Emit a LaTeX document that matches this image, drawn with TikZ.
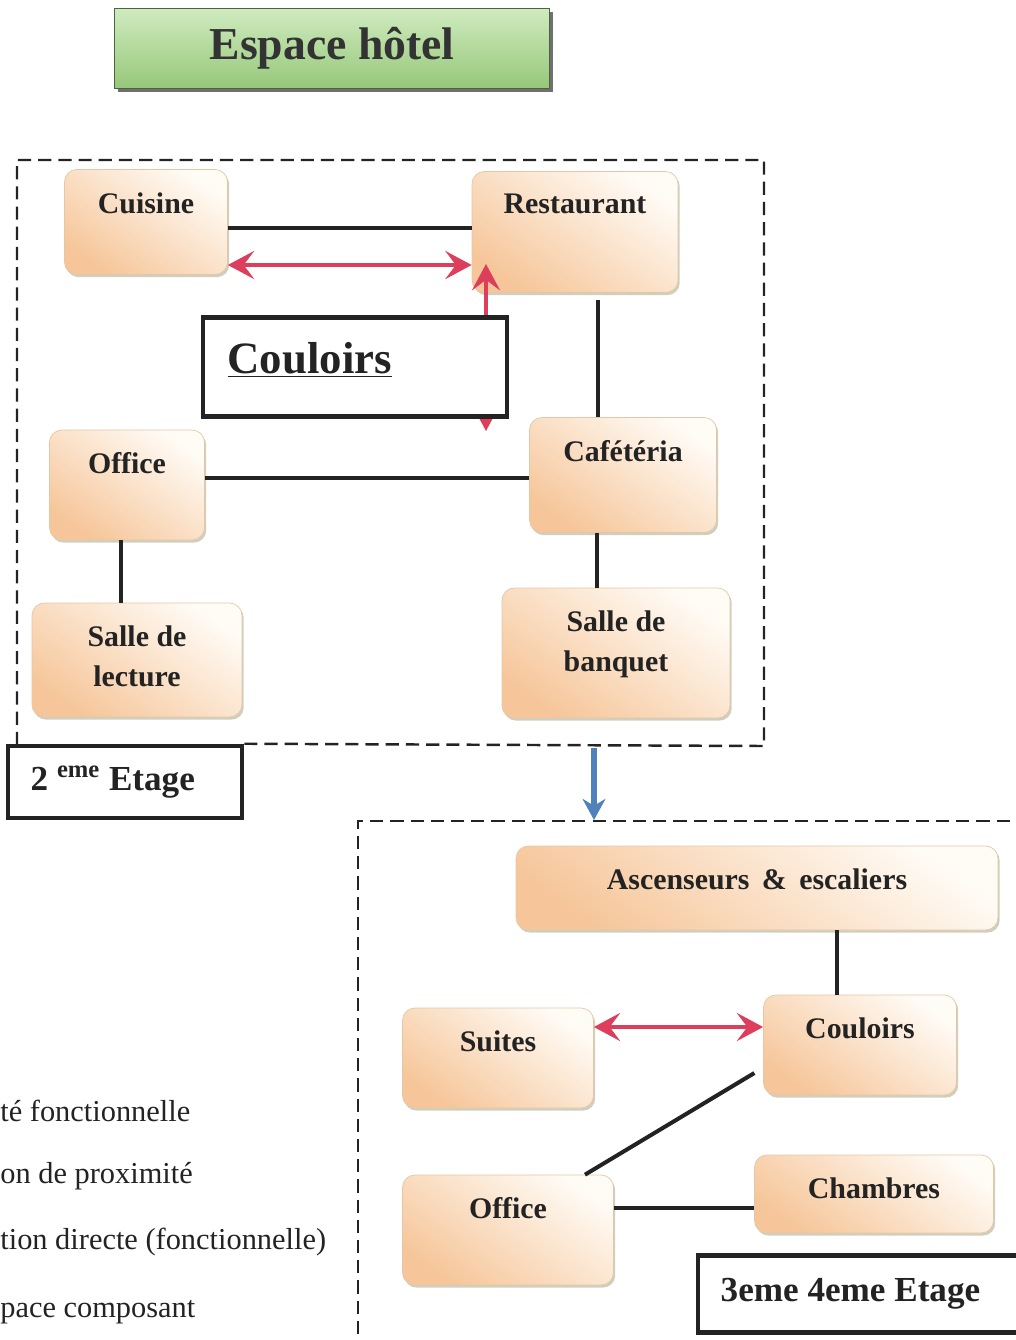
\documentclass[tikz,border=0pt]{standalone}
\usepackage{fontspec}
\setmainfont{Liberation Serif}
\usetikzlibrary{arrows.meta,shadows}

\definecolor{peach}{RGB}{246,198,154}
\definecolor{cream}{RGB}{255,251,245}
\definecolor{roomedge}{RGB}{228,200,165}
\definecolor{linkred}{RGB}{221,62,92}
\definecolor{linkblue}{RGB}{79,129,189}
\definecolor{titlegreen}{RGB}{150,200,122}
\definecolor{titlelight}{RGB}{208,235,192}
\definecolor{ink}{RGB}{35,35,35}

\begin{document}
\begin{tikzpicture}[x=0.02cm,y=-0.02cm,>={Stealth[length=15pt,width=16pt,inset=6pt]},
    room/.style={draw=roomedge,thin,rounded corners=7pt,top color=cream,bottom color=peach,shading angle=-35,
        drop shadow={shadow xshift=1pt,shadow yshift=-1.5pt,fill=black!60!yellow,opacity=.35}},
    rname/.style={anchor=north,yshift=-13pt,inner sep=0pt,align=center,text=ink,
        font=\fontsize{17}{23}\selectfont\bfseries},
    titlebox/.style={draw=black!50!titlegreen,top color=titlelight,bottom color=titlegreen,
        drop shadow={shadow xshift=2pt,shadow yshift=-2pt,fill=black!70,opacity=.8},
        text=black!80,font=\fontsize{26}{30}\selectfont\bfseries},
    corridor/.style={draw=ink,line width=2.4pt,fill=white},
    etage/.style={draw=ink,line width=2.6pt,fill=white},
    etext/.style={anchor=west,xshift=14pt,inner sep=0pt,text=ink,font=\fontsize{20}{24}\selectfont\bfseries},
    link/.style={draw=ink,line width=2.3pt},
    redlink/.style={draw=linkred,line width=2.3pt,<->},
    frame/.style={draw=ink,line width=1.4pt,dash pattern=on 7.5pt off 4pt},
    legend/.style={anchor=west,inner sep=0pt,text=ink,font=\fontsize{17.3}{20}\selectfont}]

    \useasboundingbox (0,0) rectangle (1016,1340);

    \node[titlebox,minimum width=8.7cm,minimum height=1.6cm] (titre) at (332,48) {Espace hôtel};

    % 2eme etage
    \node[room,minimum width=3.26cm,minimum height=2.1cm,label={[rname]north:Cuisine}]          (cuisine)    at (146,222) {};
    \node[room,minimum width=4.12cm,minimum height=2.42cm,label={[rname]north:Restaurant}]      (restaurant) at (575,232) {};
    \node[room,minimum width=3.1cm,minimum height=2.2cm,label={[rname]north:Office}]            (office)     at (127,485) {};
    \node[room,minimum width=3.74cm,minimum height=2.3cm,label={[rname]north:Cafétéria}]        (cafeteria)  at (623,475) {};
    \node[room,minimum width=4.2cm,minimum height=2.28cm,label={[rname]north:{Salle de\\lecture}}] (lecture) at (137,660) {};
    \node[room,minimum width=4.56cm,minimum height=2.6cm,label={[rname]north:{Salle de\\banquet}}] (banquet) at (616,653) {};

    \coordinate (cbas)  at (486,431);
    \coordinate (chaut) at (486,264);
    \draw[redlink] (cbas) -- (chaut);
    \node[corridor,minimum width=6.08cm,minimum height=1.98cm,
        label={[anchor=west,xshift=15pt,yshift=4pt,inner sep=0pt,text=ink,font=\fontsize{25.5}{30}\selectfont\bfseries]west:\underline{Couloirs}}] (couloirs) at (355,367) {};

    \path[link] (cuisine.east |- 0,228) edge (restaurant.west |- 0,228)
                ([yshift=-4pt]restaurant.south -| 598,0) edge (cafeteria.north -| 598,0)
                (office.east |- 0,478) edge (cafeteria.west |- 0,478)
                (office.south -| 121,0) edge (lecture.north -| 121,0)
                (cafeteria.south -| 597,0) edge (banquet.north -| 597,0);
    \draw[redlink] (cuisine.east |- 0,265) -- (restaurant.west |- 0,265);

    \node[etage,minimum width=4.68cm,minimum height=1.44cm,label={[etext]west:2 \textsuperscript{eme} Etage}] (etage2) at (125,782) {};
    \draw[frame] (etage2.north east) -- (764,746) -- (764,160) -- (17,160) -- (17,746);

    \coordinate (fhaut) at (594,748);
    \coordinate (fbas)  at (594,820);
    \draw[draw=linkblue,line width=3pt,-{Stealth[length=12pt,width=13pt]}] (fhaut) -- (fbas);

    % 3eme 4eme etage
    \draw[frame] (1030,821) -- (358,821) -- (358,1350);

    \node[room,minimum width=9.64cm,minimum height=1.68cm,label={[rname]north:Ascenseurs \,\&\, escaliers}] (ascenseurs) at (757,888) {};
    \node[room,minimum width=3.86cm,minimum height=2cm,label={[rname]north:Couloirs}]   (couloirs2) at (860,1045) {};
    \node[room,minimum width=3.82cm,minimum height=2cm,label={[rname]north:Suites}]     (suites)    at (498,1058) {};
    \node[room,minimum width=4.22cm,minimum height=2.2cm,label={[rname]north:Office}]   (office2)   at (508,1230) {};
    \node[room,minimum width=4.78cm,minimum height=1.56cm,label={[rname]north:Chambres}] (chambres) at (874,1194) {};

    \path[link] (ascenseurs.south -| 837,0) edge (couloirs2.north -| 837,0)
                ([xshift=-5pt]couloirs2.west |- 0,1073) edge (office2.north -| 585,0)
                (office2.east |- 0,1208) edge (chambres.west |- 0,1208);
    \draw[redlink] (suites.east |- 0,1027) -- (couloirs2.west |- 0,1027);

    \node[etage,minimum width=6.44cm,minimum height=1.54cm,label={[etext]west:3eme 4eme Etage}] (etage3) at (859,1294) {};

    % legende
    \node[legend] (leg1) at (0,1111) {té fonctionnelle};
    \node[legend] (leg2) at (0,1176) {on de proximité};
    \node[legend] (leg3) at (0,1242) {tion directe (fonctionnelle)};
    \node[legend] (leg4) at (0,1312) {pace composant};
\end{tikzpicture}
\end{document}
